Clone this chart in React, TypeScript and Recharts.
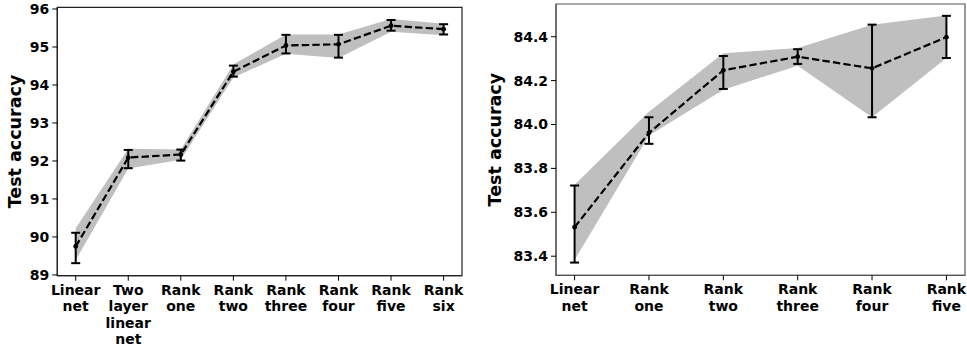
import React from 'react';
import { ComposedChart, Line, Area, XAxis, YAxis, ErrorBar, ReferenceArea } from 'recharts';

const FONT = '"DejaVu Sans", "Liberation Sans", sans-serif';

// Left panel: test accuracy across model families
const leftCategories = ['Linear net', 'Two layer linear net', 'Rank one', 'Rank two', 'Rank three', 'Rank four', 'Rank five', 'Rank six'];
const leftMean = [89.75, 92.09, 92.17, 94.35, 95.04, 95.07, 95.56, 95.47];
const leftErrLow = [89.31, 91.81, 92.01, 94.22, 94.83, 94.72, 95.43, 95.33];
const leftErrHigh = [90.11, 92.29, 92.30, 94.51, 95.32, 95.32, 95.71, 95.60];
const leftBandLow = [89.39, 91.80, 92.03, 94.20, 94.82, 94.71, 95.40, 95.31];
const leftBandHigh = [90.23, 92.32, 92.30, 94.54, 95.33, 95.33, 95.74, 95.61];
const leftTicks = [89, 90, 91, 92, 93, 94, 95, 96];

// Right panel
const rightCategories = ['Linear net', 'Rank one', 'Rank two', 'Rank three', 'Rank four', 'Rank five'];
const rightMean = [83.532, 83.962, 84.247, 84.309, 84.256, 84.398];
const rightErrLow = [83.371, 83.912, 84.162, 84.276, 84.033, 84.303];
const rightErrHigh = [83.722, 84.033, 84.312, 84.343, 84.455, 84.495];
const rightBandLow = [83.383, 83.950, 84.158, 84.268, 84.033, 84.303];
const rightBandHigh = [83.725, 84.058, 84.325, 84.348, 84.455, 84.497];
const rightTicks = [83.4, 83.6, 83.8, 84.0, 84.2, 84.4];

type Row = { idx: number; mean: number; band: [number, number]; err: [number, number] };

const buildRows = (mean: number[], errLow: number[], errHigh: number[], bandLow: number[], bandHigh: number[]): Row[] =>
  mean.map((m, i) => ({
    idx: i,
    mean: m,
    band: [bandLow[i], bandHigh[i]],
    err: [m - errLow[i], errHigh[i] - m],
  }));

const CategoryTick = (props: any) => {
  const { x, y, payload, labels } = props;
  const words: string[] = String(labels[payload.value] ?? '').split(' ');
  return (
    <text x={x} y={y} textAnchor="middle" fontFamily={FONT} fontWeight="bold" fontSize={14} fill="#000">
      {words.map((w, i) => (
        <tspan key={i} x={x} dy={i === 0 ? '0.71em' : 16.5}>
          {w}
        </tspan>
      ))}
    </text>
  );
};

type PanelProps = {
  categories: string[];
  rows: Row[];
  yDomain: [number, number];
  yTicks: number[];
  decimals: number;
  width: number;
  margin: { top: number; right: number; bottom: number; left: number };
  yAxisWidth: number;
  labelX: number;
  frameColor: string;
};

const Panel = ({ categories, rows, yDomain, yTicks, decimals, width, margin, yAxisWidth, labelX, frameColor }: PanelProps) => {
  const n = categories.length;
  const pad = 0.05 * (n - 1);
  const xDomain: [number, number] = [-pad, n - 1 + pad];
  const xTicks = categories.map((_, i) => i);
  const tickStyle = { fontFamily: FONT, fontWeight: 'bold', fontSize: 14, fill: '#000' };
  const height = 347;
  const plotTop = margin.top;
  const plotBottom = height - margin.bottom - 60;
  const labelY = (plotTop + plotBottom) / 2;

  return (
    <ComposedChart width={width} height={height} data={rows} margin={margin}>
      <XAxis
        dataKey="idx"
        type="number"
        domain={xDomain}
        ticks={xTicks}
        interval={0}
        allowDataOverflow
        height={60}
        tickSize={5}
        tickMargin={4}
        axisLine={{ stroke: frameColor, strokeWidth: 1.2 }}
        tickLine={{ stroke: '#000', strokeWidth: 1 }}
        tick={<CategoryTick labels={categories} />}
      />
      <YAxis
        type="number"
        domain={yDomain}
        ticks={yTicks}
        allowDataOverflow
        width={yAxisWidth}
        tickSize={5}
        tickMargin={3}
        interval={0}
        tickFormatter={(v: number) => v.toFixed(decimals)}
        axisLine={{ stroke: frameColor, strokeWidth: 1.2 }}
        tickLine={{ stroke: '#000', strokeWidth: 1 }}
        tick={tickStyle}
        label={() => (
          <text
            x={labelX}
            y={labelY}
            transform={`rotate(-90 ${labelX} ${labelY})`}
            textAnchor="middle"
            dominantBaseline="central"
            fontFamily={FONT}
            fontWeight="bold"
            fontSize={17.5}
            fill="#000"
          >
            Test accuracy
          </text>
        )}
      />
      <Area
        dataKey="band"
        type="linear"
        fill="#bfbfbf"
        fillOpacity={1}
        stroke="none"
        isAnimationActive={false}
        activeDot={false}
      />
      <Line
        dataKey="mean"
        type="linear"
        stroke="#000"
        strokeWidth={2.2}
        strokeDasharray="7.4 3.2"
        dot={{ r: 2.4, fill: '#000', stroke: 'none', strokeDasharray: '' }}
        activeDot={false}
        isAnimationActive={false}
      >
        <ErrorBar dataKey="err" direction="y" width={4.5} stroke="#000" strokeWidth={2} isAnimationActive={false} />
      </Line>
      {/* axes frame */}
      <ReferenceArea
        x1={xDomain[0]}
        x2={xDomain[1]}
        y1={yDomain[0]}
        y2={yDomain[1]}
        fill="none"
        fillOpacity={0}
        stroke={frameColor}
        strokeWidth={1.2}
        ifOverflow="visible"
      />
    </ComposedChart>
  );
};

export default function App() {
  const leftRows = buildRows(leftMean, leftErrLow, leftErrHigh, leftBandLow, leftBandHigh);
  const rightRows = buildRows(rightMean, rightErrLow, rightErrHigh, rightBandLow, rightBandHigh);
  return (
    <div style={{ position: 'absolute', left: 0, top: 0, width: 967, height: 347, background: '#fff', overflow: 'hidden' }}>
      <div style={{ position: 'absolute', left: 0, top: 0 }}>
        <Panel
          categories={leftCategories}
          rows={leftRows}
          yDomain={[88.98, 96.045]}
          yTicks={leftTicks}
          decimals={0}
          width={470}
          margin={{ top: 7.3, right: 8, bottom: 11.3, left: 0 }}
          yAxisWidth={57.3}
          labelX={15}
          frameColor="#222"
        />
      </div>
      <div style={{ position: 'absolute', left: 480, top: 0 }}>
        <Panel
          categories={rightCategories}
          rows={rightRows}
          yDomain={[83.313, 84.549]}
          yTicks={rightTicks}
          decimals={1}
          width={487}
          margin={{ top: 4, right: 2, bottom: 11.7, left: 0 }}
          yAxisWidth={76}
          labelX={15.5}
          frameColor="#555"
        />
      </div>
    </div>
  );
}
